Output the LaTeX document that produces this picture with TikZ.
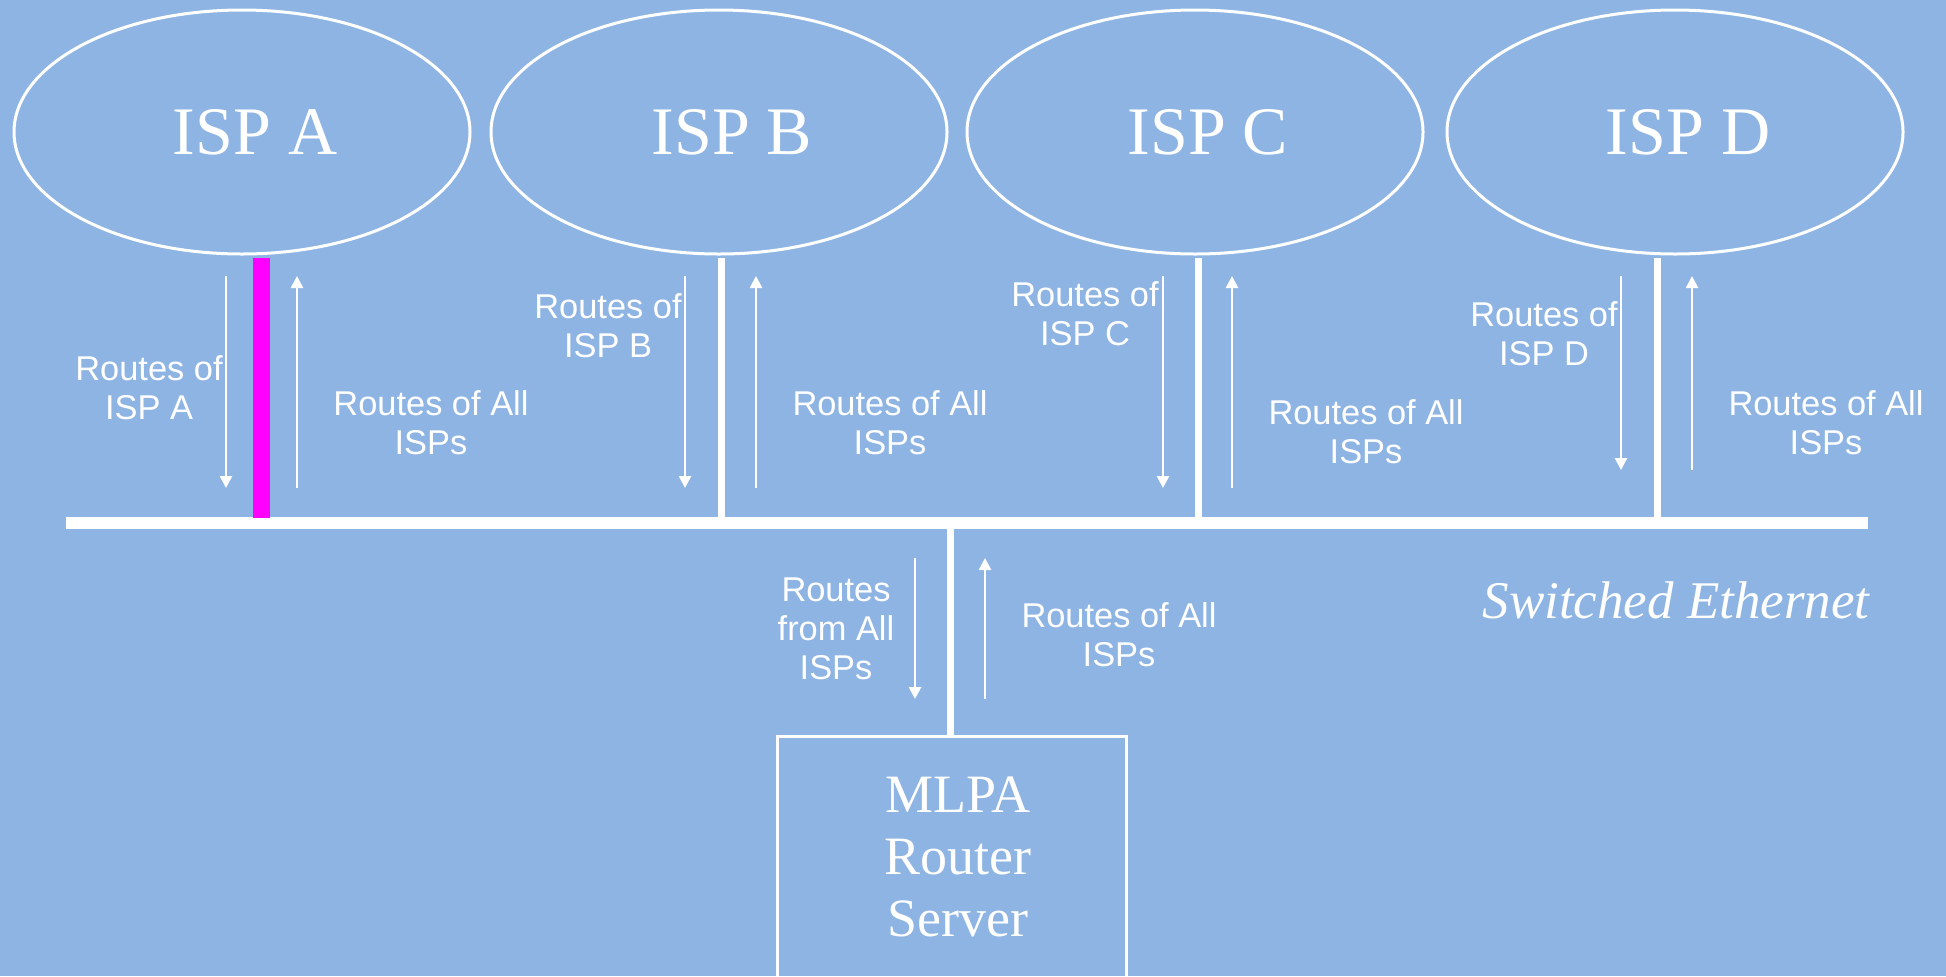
\documentclass[tikz,border=0pt]{standalone}
\usepackage{fontspec}
\setmainfont{Liberation Serif}
\setsansfont{Liberation Sans}
\usetikzlibrary{arrows.meta,shapes.geometric}
\definecolor{bg}{RGB}{142,180,227}
\definecolor{mag}{RGB}{255,0,255}
\begin{document}
\begin{tikzpicture}[x=0.5pt,y=-0.5pt,
  isp/.style={ellipse, draw=white, line width=1.5pt, minimum width=228pt, minimum height=122pt,
    inner sep=0pt, text=white, font=\fontsize{34}{40}\selectfont},
  drop/.style={white, line width=3.5pt},
  busline/.style={white, line width=6pt},
  flow/.style={white, line width=1.3pt, -{Triangle[length=6pt,width=6pt]}},
  lbl/.style={text=white, align=center, inner sep=0pt, font=\sffamily\fontsize{17.2}{19.5}\selectfont},
  big/.style={text=white, align=center, inner sep=0pt, font=\fontsize{27}{31}\selectfont},
]
\useasboundingbox (0,0) rectangle (1946,976);
\fill[bg] (0,0) rectangle (1946,976);
\clip (0,0) rectangle (1946,976);

% ISP ellipses
\node[isp] (ispA) at (242,132) {\hspace*{13pt}ISP A};
\node[isp] (ispB) at (719,132) {\hspace*{13pt}ISP B};
\node[isp] (ispC) at (1195,132) {\hspace*{13pt}ISP C};
\node[isp] (ispD) at (1675,132) {\hspace*{13pt}ISP D};

% bus
\coordinate (busL) at (66,523);
\coordinate (busR) at (1868,523);
\draw[busline] (busL) -- (busR);

% drops
\coordinate (dA1) at (261,258); \coordinate (dA2) at (261,518);
\coordinate (dB1) at (721,258); \coordinate (dB2) at (721,518);
\coordinate (dC1) at (1198,258); \coordinate (dC2) at (1198,518);
\coordinate (dD1) at (1657,258); \coordinate (dD2) at (1657,518);
\draw[mag, line width=8.5pt] (dA1) -- (dA2);
\draw[drop] (dB1) -- (dB2);
\draw[drop] (dC1) -- (dC2);
\draw[drop] (dD1) -- (dD2);

% MLPA box
\node (mlpa) [rectangle, draw=white, line width=1.5pt, minimum width=174.5pt, minimum height=170pt,
  anchor=north, inner sep=0pt, outer sep=0pt] at (951.5,736) {};
\node[big] (mlpatxt) at (958,857) {MLPA\\Router\\Server};
\coordinate (busM) at (950,526);
\draw[drop] (busM) -- (busM |- mlpa.north);

% arrows
\coordinate (aA1) at (226,276); \coordinate (aA2) at (226,488);
\coordinate (aA3) at (297,488); \coordinate (aA4) at (297,276);
\coordinate (aB1) at (685,276); \coordinate (aB2) at (685,488);
\coordinate (aB3) at (756,488); \coordinate (aB4) at (756,276);
\coordinate (aC1) at (1163,276); \coordinate (aC2) at (1163,488);
\coordinate (aC3) at (1232,488); \coordinate (aC4) at (1232,276);
\coordinate (aD1) at (1621,276); \coordinate (aD2) at (1621,470);
\coordinate (aD3) at (1692,470); \coordinate (aD4) at (1692,276);
\coordinate (aM1) at (915,558); \coordinate (aM2) at (915,699);
\coordinate (aM3) at (985,699); \coordinate (aM4) at (985,558);
\draw[flow] (aA1) -- (aA2); \draw[flow] (aA3) -- (aA4);
\draw[flow] (aB1) -- (aB2); \draw[flow] (aB3) -- (aB4);
\draw[flow] (aC1) -- (aC2); \draw[flow] (aC3) -- (aC4);
\draw[flow] (aD1) -- (aD2); \draw[flow] (aD3) -- (aD4);
\draw[flow] (aM1) -- (aM2); \draw[flow] (aM3) -- (aM4);

% labels
\node[lbl] (lA1) at (149,388) {Routes of\\ISP A};
\node[lbl] (lA2) at (431,423) {Routes of All\\ISPs};
\node[lbl] (lB1) at (608,326) {Routes of\\ISP B};
\node[lbl] (lB2) at (890,423) {Routes of All\\ISPs};
\node[lbl] (lC1) at (1085,314) {Routes of\\ISP C};
\node[lbl] (lC2) at (1366,432) {Routes of All\\ISPs};
\node[lbl] (lD1) at (1544,334) {Routes of\\ISP D};
\node[lbl] (lD2) at (1826,423) {Routes of All\\ISPs};
\node[lbl] (lM1) at (836,629) {Routes\\from All\\ISPs};
\node[lbl] (lM2) at (1119,635) {Routes of All\\ISPs};

\node[text=white, inner sep=0pt, anchor=base east, font=\itshape\fontsize{26.5}{31}\selectfont] (sw) at (1870,618) {Switched Ethernet};
\end{tikzpicture}
\end{document}
